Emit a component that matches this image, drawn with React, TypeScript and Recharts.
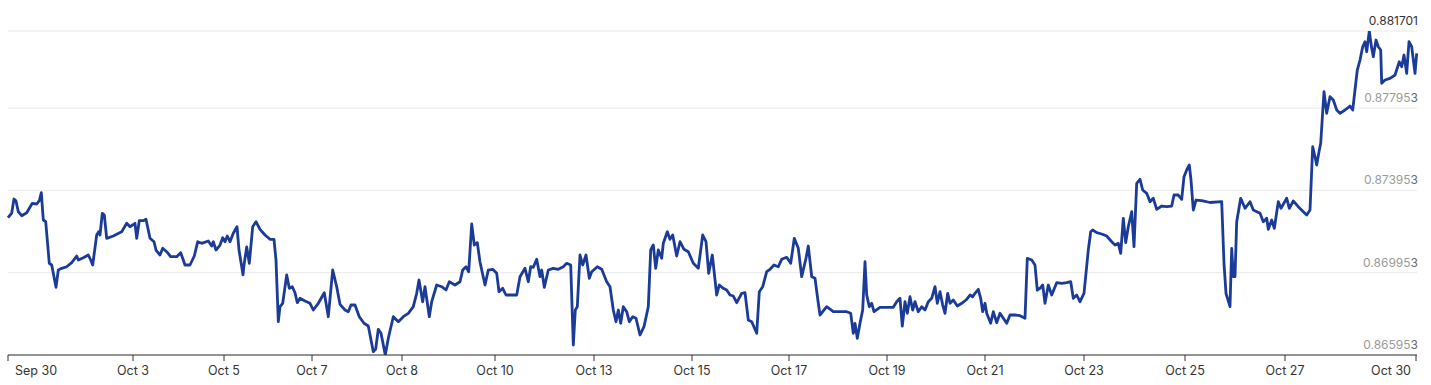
import React from 'react';
import { LineChart, Line, XAxis, YAxis, CartesianGrid } from 'recharts';

// time position of each observation (trading-time index)
const times: number[] = [
  0, 3.7, 6, 8, 10.3, 13.7, 18.7, 24.3, 28.7, 31.3, 33.3, 35.3, 37.7, 41.3, 43.7, 48, 50.3, 53.7, 58.7, 63.7,
  68.7, 70.3, 75.3, 80.3, 82.7, 84.7, 88.7, 90.7, 92, 94.3, 96.3, 98.7, 105.3, 113.7, 118.7, 122, 127, 128.7, 131.3, 135.3,
  138, 142, 146, 148, 152, 154.7, 158.7, 162.7, 168.7, 172.7, 177, 182, 186.3, 189.7, 193.7, 200.3, 203.7, 205.3, 208, 212,
  214.7, 217, 219.3, 222, 225.3, 229, 231, 235, 236, 238.7, 241.3, 244.7, 248, 252, 257, 262, 266, 268, 270.3, 272,
  274.7, 278.7, 281.3, 284.3, 287, 289.3, 292, 297, 302, 305.3, 310.3, 316.3, 320.3, 324.7, 328.7, 332, 337, 340.3, 343, 347,
  351.3, 356, 360.3, 365.3, 367.7, 370.3, 373, 377.3, 380.3, 385.3, 390.3, 395.3, 400.3, 405.3, 408.7, 411, 414.7, 417, 421.3, 423.7,
  428.7, 433.7, 438, 441.3, 447, 452, 454.7, 458, 460.7, 463.7, 466.3, 469.3, 472, 477, 480.3, 484.7, 488.7, 491, 494.7, 498,
  503.7, 508.7, 512, 517, 520.3, 522.7, 525.3, 528.7, 532, 533.7, 536.3, 540.3, 545.3, 550.3, 555.3, 558.7, 562.7, 565.3, 567.3, 569.3,
  572, 574.7, 578, 581.3, 583.7, 589.3, 593.7, 598.7, 602, 605.3, 608, 610.3, 612.7, 615.3, 618.7, 621.3, 624.7, 628, 632, 636,
  640.3, 642.7, 645.3, 647.7, 650.3, 653.7, 655.3, 659.3, 662, 664.7, 668.7, 672, 676, 680.3, 685.3, 690.3, 694.7, 698, 700.7, 704.3,
  708.7, 711.3, 715.3, 718.7, 722, 725.3, 728.7, 733.7, 737, 740.3, 743.7, 748.7, 751.3, 754.7, 758.7, 762, 766, 770.3, 773.7, 778.7,
  782.7, 786.3, 790.3, 793.7, 798, 800.3, 803.7, 807, 810.3, 812, 818.7, 825.3, 832, 838.7, 842.7, 845.3, 847, 849.3, 852, 854.7,
  857, 858.7, 861.3, 863.7, 866, 872, 878.7, 885.3, 888.7, 892, 894.3, 897, 899.3, 902, 904.7, 907, 910.3, 913.7, 917, 920.3,
  923.7, 927, 929.3, 932, 934.7, 937, 939.7, 942, 945.3, 949.3, 953.7, 958, 962, 964.7, 967, 970.3, 972.7, 974.7, 977, 978.7,
  982.7, 985.3, 988.7, 992, 995.3, 998.7, 1002, 1007, 1012, 1017, 1019.3, 1023.7, 1027, 1029.3, 1032, 1034.7, 1037, 1040.3, 1043.7, 1048.7,
  1053.7, 1058.7, 1062.7, 1065.3, 1068.7, 1072, 1076, 1080.3, 1082.7, 1084.7, 1088.7, 1093.7, 1098.7, 1103.7, 1107, 1110.3, 1112.7, 1115.3, 1117.7, 1120.3,
  1123.7, 1126, 1128.7, 1132, 1134.7, 1138.7, 1142, 1145.3, 1148.7, 1153.7, 1158.7, 1163.7, 1166, 1170.3, 1173.7, 1176, 1178.7, 1181.3, 1183, 1185.3,
  1188, 1193.7, 1202, 1213.7, 1216, 1218, 1222, 1223.7, 1225.3, 1227, 1228.7, 1232.7, 1237, 1242, 1245.3, 1252, 1255.3, 1258.7, 1260.3, 1263.7,
  1266.3, 1270.3, 1273, 1278.7, 1281.3, 1285.3, 1290.3, 1295.3, 1298.7, 1302, 1304.7, 1307, 1308.7, 1311, 1312.7, 1316, 1318.7, 1322, 1325.3, 1328.7,
  1332, 1337, 1342, 1344.7, 1347, 1349.3, 1352, 1354.7, 1357, 1358.7, 1361.3, 1363.7, 1365.3, 1368, 1370.3, 1372.7, 1373.7, 1377, 1382, 1387,
  1391.3, 1393.7, 1396, 1398.7, 1401, 1403.7, 1407, 1408.7,
];

// exchange rate values
const rates: number[] = [
  0.872626, 0.872854, 0.873535, 0.873437, 0.872917, 0.872723, 0.872869, 0.873326, 0.873292, 0.873452, 0.873841, 0.872514, 0.872431, 0.87041, 0.870327, 0.869243, 0.870084, 0.870167, 0.870244, 0.870439,
  0.870764, 0.87057, 0.870682, 0.870813, 0.87057, 0.870327, 0.871785, 0.871945, 0.871785, 0.87284, 0.872757, 0.871625, 0.871736, 0.871945, 0.872354, 0.872188, 0.872354, 0.871625, 0.87248, 0.87248,
  0.872548, 0.871625, 0.871459, 0.871056, 0.870813, 0.871139, 0.870973, 0.87073, 0.87073, 0.870925, 0.870327, 0.870327, 0.870764, 0.871459, 0.871382, 0.871493, 0.87125, 0.871459, 0.871056, 0.871299,
  0.871654, 0.871459, 0.871736, 0.871459, 0.871868, 0.872188, 0.871056, 0.86985, 0.870327, 0.871202, 0.87041, 0.872188, 0.872431, 0.872062, 0.871785, 0.871576, 0.871576, 0.87057, 0.867571, 0.8683,
  0.868466, 0.869841, 0.869195, 0.869272, 0.868981, 0.868495, 0.868709, 0.868577, 0.868466, 0.86814, 0.868466, 0.868981, 0.867814, 0.870084, 0.869272, 0.868417, 0.86814, 0.868057, 0.868383, 0.868383,
  0.867814, 0.867494, 0.867362, 0.866113, 0.866245, 0.867202, 0.867008, 0.865953, 0.866765, 0.867814, 0.867571, 0.867814, 0.86798, 0.8683, 0.868952, 0.869598, 0.868543, 0.869272, 0.867814, 0.868543,
  0.869355, 0.869272, 0.869112, 0.869515, 0.869355, 0.869515, 0.870084, 0.870244, 0.870001, 0.87232, 0.871299, 0.871411, 0.870473, 0.869355, 0.870084, 0.870118, 0.869924, 0.869029, 0.869195, 0.868869,
  0.868869, 0.868869, 0.869758, 0.870167, 0.869515, 0.870244, 0.870215, 0.870604, 0.869758, 0.870084, 0.869243, 0.870084, 0.870167, 0.870118, 0.870244, 0.87041, 0.870327, 0.866439, 0.86814, 0.8683,
  0.870813, 0.870327, 0.870813, 0.869681, 0.870001, 0.870244, 0.870118, 0.869515, 0.869272, 0.86814, 0.867571, 0.86814, 0.867494, 0.8683, 0.868057, 0.867571, 0.867814, 0.867737, 0.866925, 0.867328,
  0.8683, 0.871056, 0.871299, 0.870167, 0.871056, 0.870653, 0.871382, 0.871945, 0.871576, 0.871785, 0.870764, 0.871459, 0.87109, 0.870973, 0.87041, 0.870167, 0.871785, 0.871459, 0.869924, 0.870813,
  0.868869, 0.869355, 0.869195, 0.869112, 0.868869, 0.86882, 0.868495, 0.868952, 0.868981, 0.867654, 0.867571, 0.867008, 0.869029, 0.869272, 0.870001, 0.870118, 0.870327, 0.870244, 0.870604, 0.870701,
  0.87041, 0.871625, 0.871139, 0.869758, 0.870653, 0.87125, 0.869758, 0.869681, 0.868466, 0.867897, 0.8683, 0.868057, 0.868057, 0.868057, 0.86798, 0.867008, 0.867494, 0.866765, 0.867494, 0.86814,
  0.870487, 0.868869, 0.8683, 0.868466, 0.868057, 0.868271, 0.868271, 0.868271, 0.868543, 0.868709, 0.867362, 0.868543, 0.86798, 0.868786, 0.86814, 0.868543, 0.868057, 0.8683, 0.86814, 0.868543,
  0.868709, 0.869272, 0.868466, 0.869029, 0.868383, 0.86798, 0.868952, 0.868466, 0.868626, 0.868334, 0.868466, 0.868626, 0.868869, 0.868786, 0.868952, 0.869146, 0.868709, 0.868057, 0.868466, 0.86798,
  0.867494, 0.868057, 0.867523, 0.86798, 0.867737, 0.867494, 0.867897, 0.867897, 0.867863, 0.867737, 0.870653, 0.87057, 0.870327, 0.869112, 0.869195, 0.869355, 0.868466, 0.869355, 0.868869, 0.869467,
  0.869438, 0.869467, 0.869515, 0.868709, 0.868869, 0.868543, 0.868952, 0.871056, 0.871945, 0.872028, 0.871897, 0.871834, 0.871736, 0.871459, 0.871299, 0.871382, 0.870896, 0.872597, 0.871411, 0.872188,
  0.872917, 0.871216, 0.874298, 0.874492, 0.873972, 0.873812, 0.873403, 0.873569, 0.873034, 0.873194, 0.873162, 0.873194, 0.873729, 0.873729, 0.87352, 0.874618, 0.874944, 0.875187, 0.874458, 0.873,
  0.873486, 0.873452, 0.873365, 0.873403, 0.87041, 0.868952, 0.8683, 0.871139, 0.869758, 0.869758, 0.872431, 0.873569, 0.873083, 0.873403, 0.873, 0.87284, 0.872431, 0.872597, 0.872062, 0.872514,
  0.872111, 0.873403, 0.873083, 0.873569, 0.873083, 0.873437, 0.873162, 0.872917, 0.872757, 0.873, 0.876076, 0.87559, 0.875187, 0.875833, 0.876242, 0.878749, 0.8777, 0.878506, 0.878346, 0.87786,
  0.8777, 0.87786, 0.878054, 0.87786, 0.878832, 0.879804, 0.88029, 0.880936, 0.881179, 0.880693, 0.881701, 0.880859, 0.88045, 0.881262, 0.880936, 0.880776, 0.879158, 0.879318, 0.879401, 0.879561,
  0.880207, 0.879964, 0.880533, 0.879644, 0.881179, 0.880936, 0.879644, 0.880616,
];

const tickPositions: number[] = [0, 125, 216, 304, 394, 487, 586, 684, 781, 879, 977, 1076, 1177, 1277, 1408];
const tickLabels: string[] = [
  'Sep 30', 'Oct 3', 'Oct 5', 'Oct 7', 'Oct 8', 'Oct 10', 'Oct 13', 'Oct 15',
  'Oct 17', 'Oct 19', 'Oct 21', 'Oct 23', 'Oct 25', 'Oct 27', 'Oct 30',
];
const yTicks: number[] = [0.865953, 0.869953, 0.873953, 0.877953, 0.881701];

const data = times.map((t, i) => ({ t, v: rates[i] }));

const XTick = (props: any) => {
  const { x, y, payload, index } = props;
  const i = tickPositions.indexOf(payload.value);
  const last = i === tickPositions.length - 1;
  const first = i === 0;
  const anchor = first ? 'start' : last ? 'end' : 'middle';
  const dx = first ? 7 : last ? -5 : 0;
  return (
    <text x={x + dx} y={y + 12} textAnchor={anchor} fill="#333" fontSize={12.5} fontFamily="Inter, sans-serif">
      {tickLabels[i >= 0 ? i : index]}
    </text>
  );
};

const YTick = (props: any) => {
  const { x, y, payload } = props;
  const top = payload.value === yTicks[yTicks.length - 1];
  const label = String(payload.value);
  if (top) {
    return (
      <text x={x + 1} y={y - 6} textAnchor="end" fill="#333" fontSize={12} fontFamily="Inter, sans-serif">
        {label}
      </text>
    );
  }
  return (
    <text x={x + 1} y={y - 6} textAnchor="end" fill="#9a9a9a" fontSize={12} fontFamily="Inter, sans-serif">
      {label.slice(0, -1)}
      <tspan fill="#6a6a6a">{label.slice(-1)}</tspan>
    </text>
  );
};

export default function App() {
  return (
    <div style={{ position: 'absolute', left: 0, top: 0, width: 1431, height: 385, fontFamily: 'Inter, sans-serif' }}>
      <LineChart width={1431} height={385} data={data} margin={{ top: 31, right: 14, bottom: 0, left: 8 }}>
        <CartesianGrid horizontal vertical={false} stroke="#e9e9e9" />
        <XAxis
          dataKey="t"
          type="number"
          domain={[0, 1409]}
          ticks={tickPositions}
          interval={0}
          height={30}
          axisLine={{ stroke: '#333', strokeWidth: 1 }}
          tickLine={{ stroke: '#333' }}
          tickSize={6}
          tick={<XTick />}
        />
        <YAxis
          orientation="right"
          mirror
          width={70}
          domain={[yTicks[0], yTicks[yTicks.length - 1]]}
          ticks={yTicks}
          interval={0}
          axisLine={false}
          tickLine={false}
          tickSize={0}
          tickMargin={0}
          allowDataOverflow
          tick={<YTick />}
        />
        <Line
          type="linear"
          dataKey="v"
          stroke="#1a3b97"
          strokeWidth={2.8}
          strokeLinejoin="round"
          dot={false}
          isAnimationActive={false}
        />
      </LineChart>
    </div>
  );
}
